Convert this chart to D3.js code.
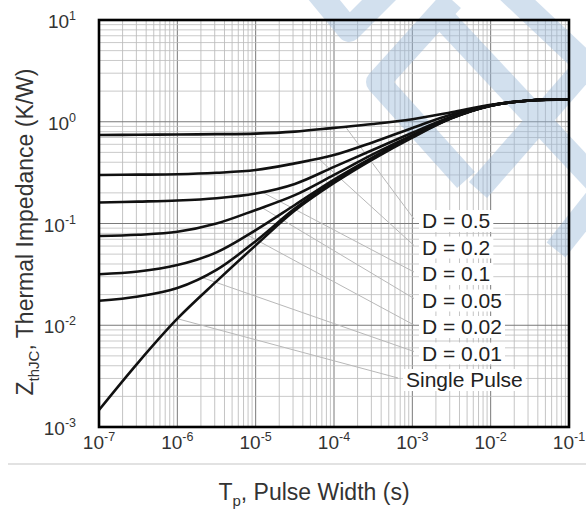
<!DOCTYPE html>
<html>
<head>
<meta charset="utf-8">
<script src="https://cdn.jsdelivr.net/npm/d3@7"></script>
<style>
  body { margin: 0; background: #fff; }
  svg { display: block; font-family: "Liberation Sans", Arial, sans-serif; }
</style>
</head>
<body>
<svg id="chart" width="586" height="524"></svg>
<script>
const pulseWidth = [1e-7, 3.16e-7, 1e-6, 3.16e-6, 1e-5, 3.16e-5, 1e-4, 3.16e-4, 1e-3, 3.16e-3, 1e-2, 3.16e-2, 1e-1];

// Zth (K/W) for each duty cycle
const zD050 = [0.74, 0.745, 0.75, 0.755, 0.765, 0.80, 0.87, 0.95, 1.06, 1.24, 1.47, 1.62, 1.66];
const zD020 = [0.30, 0.302, 0.305, 0.315, 0.335, 0.39, 0.47, 0.63, 0.87, 1.18, 1.45, 1.62, 1.66];
const zD010 = [0.161, 0.164, 0.168, 0.177, 0.197, 0.245, 0.36, 0.53, 0.78, 1.12, 1.44, 1.62, 1.66];
const zD005 = [0.0753, 0.0775, 0.083, 0.100, 0.136, 0.19, 0.30, 0.48, 0.74, 1.10, 1.44, 1.62, 1.66];
const zD002 = [0.0317, 0.0337, 0.039, 0.052, 0.086, 0.152, 0.27, 0.45, 0.72, 1.09, 1.44, 1.62, 1.66];
const zD001 = [0.0174, 0.0192, 0.0232, 0.035, 0.067, 0.140, 0.26, 0.44, 0.71, 1.085, 1.44, 1.62, 1.66];
const zSingle = [0.00147, 0.0043, 0.0116, 0.027, 0.061, 0.134, 0.25, 0.43, 0.70, 1.08, 1.44, 1.62, 1.66];

const seriesValues = [zD050, zD020, zD010, zD005, zD002, zD001, zSingle];
const seriesLabels = ['D = 0.5', 'D = 0.2', 'D = 0.1', 'D = 0.05', 'D = 0.02', 'D = 0.01', 'Single Pulse'];
// pulse width where each label's leader line touches its curve
const leaderTargets = [1.4e-4, 6.3e-5, 1.2e-5, 1.2e-5, 7.8e-6, 2.0e-6, 1.0e-6];

const xTickExps = [-7, -6, -5, -4, -3, -2, -1];
const yTickExps = [-3, -2, -1, 0, 1];

const plot = { left: 99, right: 569, top: 20, bottom: 427 };
const svg = d3.select('#chart');

const x = d3.scaleLog().domain([1e-7, 1e-1]).range([plot.left, plot.right]);
const y = d3.scaleLog().domain([1e-3, 1e1]).range([plot.bottom, plot.top]);

// log grid: 1..9 per decade
function gridValues(lo, hi) {
  const vals = [];
  for (let e = lo; e < hi; e += 1) {
    for (let k = 1; k <= 9; k += 1) vals.push({ v: k * Math.pow(10, e), major: k === 1 });
  }
  vals.push({ v: Math.pow(10, hi), major: true });
  return vals;
}

const gGrid = svg.append('g').attr('class', 'grid');
gGrid.selectAll('line.vx')
  .data(gridValues(-7, -1))
  .join('line')
  .attr('x1', (d) => x(d.v)).attr('x2', (d) => x(d.v))
  .attr('y1', plot.top).attr('y2', plot.bottom)
  .attr('stroke', (d) => (d.major ? '#7a7a7a' : '#b5b5b5'))
  .attr('stroke-width', (d) => (d.major ? 1 : 0.8));
gGrid.selectAll('line.hy')
  .data(gridValues(-3, 1))
  .join('line')
  .attr('y1', (d) => y(d.v)).attr('y2', (d) => y(d.v))
  .attr('x1', plot.left).attr('x2', plot.right)
  .attr('stroke', (d) => (d.major ? '#7a7a7a' : '#bdbdbd'))
  .attr('stroke-width', (d) => (d.major ? 1 : 0.8));

// faint watermark bands
const watermark = [
  'M312,-15 L349,30 L394,-15',
  'M452,0 L378,82 L466,180',
  'M440,15 L600,186',
  'M505,-12 L592,70',
  'M602,48 L478,190',
  'M602,192 L556,250'
];
svg.append('g')
  .attr('opacity', 0.42)
  .selectAll('path')
  .data(watermark)
  .join('path')
  .attr('d', (d) => d)
  .attr('fill', 'none')
  .attr('stroke', 'rgb(150,182,216)')
  .attr('stroke-width', 24)
  .attr('stroke-linejoin', 'round');

// interpolate a series in log-log space
function valueAt(values, t) {
  const lt = Math.log10(t);
  for (let i = 0; i < pulseWidth.length - 1; i += 1) {
    const a = Math.log10(pulseWidth[i]);
    const b = Math.log10(pulseWidth[i + 1]);
    if (lt >= a && lt <= b) {
      const f = (lt - a) / (b - a);
      return Math.pow(10, Math.log10(values[i]) * (1 - f) + Math.log10(values[i + 1]) * f);
    }
  }
  return values[values.length - 1];
}

// legend labels with white boxes and leader lines
const labelLeft = [422, 422, 422, 422, 422, 422, 406];
const labelBase = seriesLabels.map((_, i) => 228 + i * 26.5);

const gLeader = svg.append('g');
gLeader.selectAll('line')
  .data(seriesLabels)
  .join('line')
  .attr('x1', (d, i) => labelLeft[i] - 8)
  .attr('y1', (d, i) => labelBase[i] - 9)
  .attr('x2', (d, i) => x(leaderTargets[i]))
  .attr('y2', (d, i) => y(valueAt(seriesValues[i], leaderTargets[i])))
  .attr('stroke', '#b8b8b8')
  .attr('stroke-width', 1);

const line = d3.line()
  .x((d) => x(d[0]))
  .y((d) => y(d[1]))
  .curve(d3.curveCatmullRom.alpha(0.5));

svg.append('g')
  .selectAll('path')
  .data(seriesValues)
  .join('path')
  .attr('d', (vals) => line(vals.map((v, i) => [pulseWidth[i], v])))
  .attr('fill', 'none')
  .attr('stroke', '#111')
  .attr('stroke-width', 2.6);

const gLabels = svg.append('g');
const labelText = gLabels.selectAll('text')
  .data(seriesLabels)
  .join('text')
  .attr('x', (d, i) => labelLeft[i])
  .attr('y', (d, i) => labelBase[i])
  .attr('font-size', 21)
  .attr('fill', '#222')
  .text((d) => d);
labelText.each(function () {
  const b = this.getBBox();
  gLabels.insert('rect', 'text')
    .attr('x', b.x - 3).attr('y', b.y + 1)
    .attr('width', b.width + 6).attr('height', b.height - 1)
    .attr('fill', '#fff');
});

// frame
svg.append('rect')
  .attr('x', plot.left).attr('y', plot.top)
  .attr('width', plot.right - plot.left).attr('height', plot.bottom - plot.top)
  .attr('fill', 'none')
  .attr('stroke', '#000')
  .attr('stroke-width', 2.6);

// tick labels as 10^n
function powerLabel(sel) {
  sel.append('tspan').text('10');
  sel.append('tspan')
    .attr('font-size', 12.5)
    .attr('dy', -8)
    .text((d) => d);
}

svg.append('g')
  .selectAll('text')
  .data(xTickExps)
  .join('text')
  .attr('x', (d) => x(Math.pow(10, d)))
  .attr('y', 449)
  .attr('text-anchor', 'middle')
  .attr('font-size', 19)
  .attr('fill', '#333')
  .call(powerLabel);

svg.append('g')
  .selectAll('text')
  .data(yTickExps)
  .join('text')
  .attr('x', 76)
  .attr('y', (d) => y(Math.pow(10, d)) + 8)
  .attr('text-anchor', 'end')
  .attr('font-size', 19)
  .attr('fill', '#333')
  .call(powerLabel);

// separator
svg.append('line')
  .attr('x1', 8).attr('x2', 586)
  .attr('y1', 464).attr('y2', 464)
  .attr('stroke', '#e2e2e2')
  .attr('stroke-width', 2);

// axis titles
const xTitle = svg.append('text')
  .attr('x', 314)
  .attr('y', 500)
  .attr('text-anchor', 'middle')
  .attr('font-size', 23)
  .attr('fill', '#333');
xTitle.append('tspan').text('T');
xTitle.append('tspan').attr('font-size', 15).attr('dy', 6).text('p');
xTitle.append('tspan').attr('dy', -6).text(', Pulse Width (s)');

const yTitle = svg.append('text')
  .attr('transform', 'translate(33,232) rotate(-90)')
  .attr('text-anchor', 'middle')
  .attr('font-size', 23)
  .attr('fill', '#333');
yTitle.append('tspan').text('Z');
yTitle.append('tspan').attr('font-size', 15).attr('dy', 6).text('thJC');
yTitle.append('tspan').attr('dy', -6).text(', Thermal Impedance (K/W)');
</script>
</body>
</html>
